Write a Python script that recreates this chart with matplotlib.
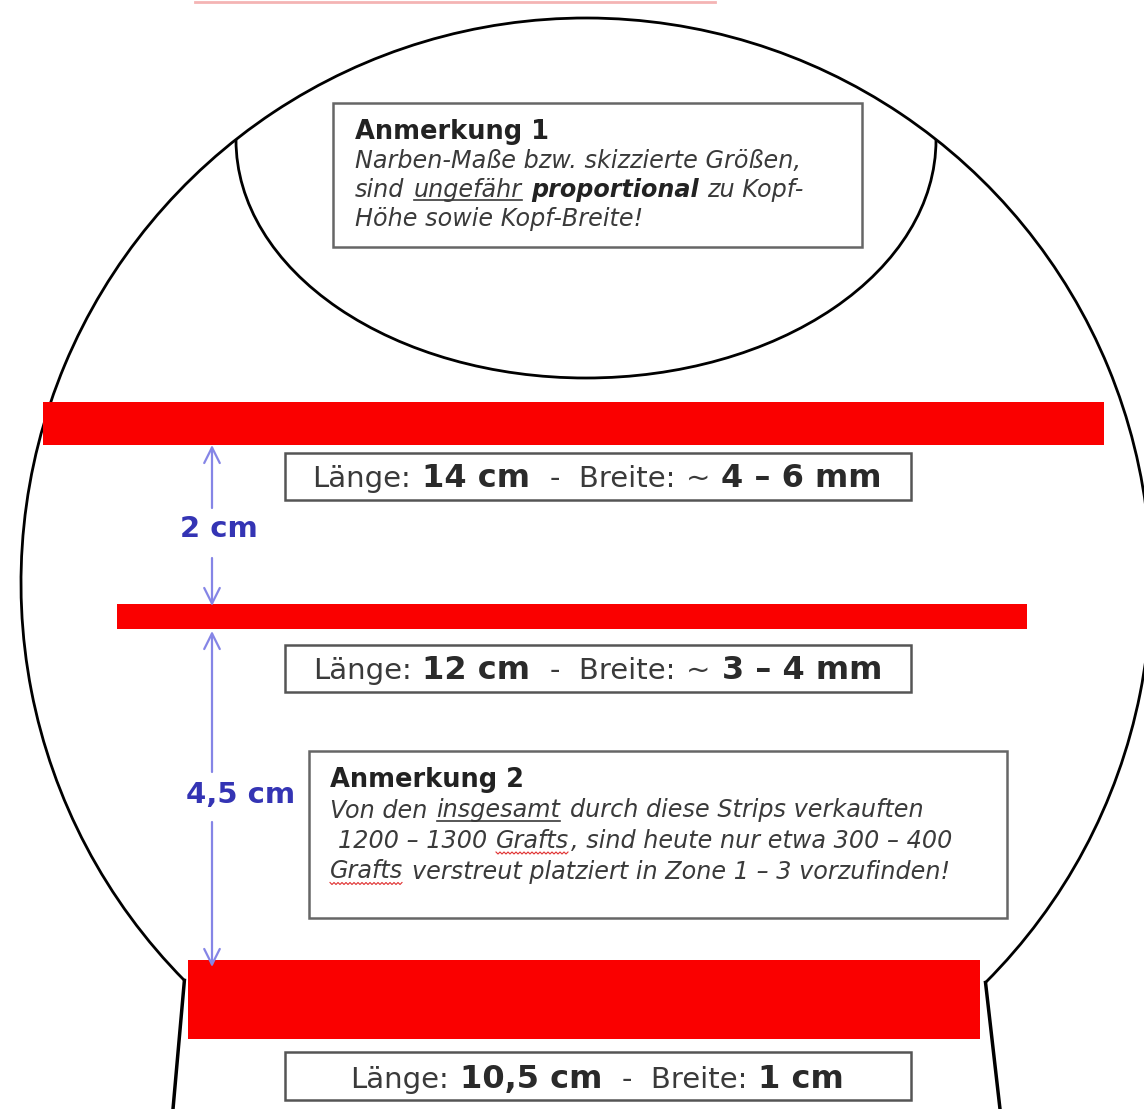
import matplotlib
matplotlib.use("Agg")
import matplotlib.pyplot as plt
import matplotlib.patches as patches
import numpy as np

# ---- content of the sketch ----
strip_lengths = ["14 cm", "12 cm", "10,5 cm"]
strip_tilde = ["~", "~", ""]
strip_widths = ["4 – 6 mm", "3 – 4 mm", "1 cm"]
gap_labels = ["2 cm", "4,5 cm"]

note1_title = "Anmerkung 1"
note1_lines = [
    [("Narben-Maße bzw. skizzierte Größen,", "")],
    [("sind ", ""), ("ungefähr", "u"), (" ", ""), ("proportional", "b"), (" zu Kopf-", "")],
    [("Höhe sowie Kopf-Breite!", "")],
]
note2_title = "Anmerkung 2"
note2_lines = [
    [("Von den ", ""), ("insgesamt", "u"), (" durch diese Strips verkauften", "")],
    [(" 1200 – 1300 ", ""), ("Grafts", "w"), (", sind heute nur etwa 300 – 400", "")],
    [("Grafts", "w"), (" verstreut platziert in Zone 1 – 3 vorzufinden!", "")],
]

# ---- geometry (pixel space, y down) ----
W, H = 1144, 1109
head_c, head_r = (586, 583), 565
arc_from, arc_to = 135.3, 405.0
crown_c, crown_w, crown_h = (586, 140), 700, 476
neck_bottom = [(173, 1109), (1000, 1109)]
strip_y = [(402, 445), (604, 629), (960, 1039)]
strip_x = [(43, 1104), (117, 1027), (188, 980)]
label_boxes = [(285, 453, 911, 500), (285, 645, 911, 692), (285, 1052, 911, 1100)]
label_base = [487, 679, 1088]
note1_box, note2_box = (333, 103, 862, 247), (309, 751, 1007, 918)
arrow_x = 212

RED = "#fa0000"
BLUE_LINE = "#8585e6"
BLUE_TEXT = "#3434b4"
TXT = "#3a3a3a"
FAM = "DejaVu Sans"

fig = plt.figure(figsize=(W / 100, H / 100), dpi=100)
ax = fig.add_axes([0, 0, 1, 1])
ax.set_xlim(0, W)
ax.set_ylim(H, 0)
ax.axis("off")
rend = fig.canvas.get_renderer()

_space = {}


def space_width(props):
    key = tuple(sorted(props.items()))
    if key not in _space:
        a = ax.text(0, 0, "x x", **props)
        b = ax.text(0, 0, "xx", **props)
        _space[key] = a.get_window_extent(rend).width - b.get_window_extent(rend).width
        a.remove()
        b.remove()
    return _space[key]


def draw_runs(x, y, runs, center=False):
    # runs: (text, props, deco) drawn one after another on a baseline
    items = []
    cx = x
    for text, props, deco in runs:
        sw = space_width(props)
        core = text.strip(" ")
        if not core:
            cx += len(text) * sw
            continue
        lead = len(text) - len(text.lstrip(" "))
        trail = len(text) - len(text.rstrip(" "))
        cx += lead * sw
        t = ax.text(cx, y, core, ha="left", va="baseline", zorder=6, **props)
        w = t.get_window_extent(rend).width
        items.append(t)
        if deco == "u":
            ln, = ax.plot([cx, cx + w], [y + 3, y + 3], color=props["color"], lw=1.2, zorder=6)
            items.append(ln)
        elif deco == "w":
            xs = np.arange(cx, cx + w, 2.0)
            ys = y + 5 + np.where(np.arange(len(xs)) % 2 == 0, -1.0, 1.0)
            ln, = ax.plot(xs, ys, color="#e03030", lw=0.8, zorder=6)
            items.append(ln)
        cx += w + 1.5 + trail * sw
    if center:
        shift = -(cx - x) / 2
        for a in items:
            if isinstance(a, plt.Text):
                px, py = a.get_position()
                a.set_position((px + shift, py))
            else:
                a.set_xdata(np.asarray(a.get_xdata()) + shift)
    return items


# head outline
ax.add_patch(patches.Arc(head_c, 2 * head_r, 2 * head_r, theta1=arc_from, theta2=arc_to,
                         color="black", lw=2, zorder=2))
clip = patches.Circle(head_c, head_r, transform=ax.transData)
crown = patches.Ellipse(crown_c, crown_w, crown_h, fill=False, color="black", lw=2, zorder=2)
ax.add_patch(crown)
crown.set_clip_path(clip)

# neck
for ang, (bx, by) in zip([arc_from, arc_to], neck_bottom):
    sx = head_c[0] + head_r * np.cos(np.radians(ang))
    sy = head_c[1] + head_r * np.sin(np.radians(ang))
    ax.plot([sx, bx], [sy, by], color="black", lw=2.5, zorder=2)

# faint cut-off heading at the top edge
ax.plot([195, 715], [1.5, 1.5], color="#f4b4b4", lw=2, zorder=1)

# strips
for (y0, y1), (x0, x1) in zip(strip_y, strip_x):
    ax.add_patch(patches.Rectangle((x0, y0), x1 - x0, y1 - y0, color=RED, lw=0, zorder=3))

# label boxes
normal = dict(family=FAM, fontsize=21, color=TXT)
bold = dict(family=FAM, fontsize=23, color="#2a2a2a", fontweight="bold")
for (x0, y0, x1, y1), base, ln, tl, wd in zip(label_boxes, label_base, strip_lengths,
                                               strip_tilde, strip_widths):
    ax.add_patch(patches.Rectangle((x0, y0), x1 - x0, y1 - y0, facecolor="white",
                                   edgecolor="#555555", lw=1.8, zorder=5))
    runs = [("Länge: ", normal, ""), (ln, bold, ""), ("  -  Breite: ", normal, "")]
    if tl:
        runs.append((tl + " ", normal, ""))
    runs.append((wd, bold, ""))
    draw_runs((x0 + x1) / 2, base, runs, center=True)


# notes
def note(box, title, lines, tx, ty, dy, title_size, body_size):
    x0, y0, x1, y1 = box
    ax.add_patch(patches.Rectangle((x0, y0), x1 - x0, y1 - y0, facecolor="white",
                                   edgecolor="#666666", lw=1.8, zorder=5))
    ax.text(tx, ty, title, family=FAM, fontsize=title_size, fontweight="bold",
            color="#222222", ha="left", va="baseline", zorder=6)
    body = dict(family=FAM, fontsize=body_size, style="italic", color=TXT)
    bodyb = dict(family=FAM, fontsize=body_size, style="italic", fontweight="bold", color="#222222")
    for i, line in enumerate(lines):
        runs = [(t, bodyb if d == "b" else body, d) for t, d in line]
        draw_runs(tx, ty + dy * (i + 1), runs)


note(note1_box, note1_title, note1_lines, 355, 139, 29, 18.5, 17.2)
note(note2_box, note2_title, note2_lines, 330, 787, 30.5, 18.5, 17.2)

# distance arrows
arrows = [((arrow_x, 445), (arrow_x, 508)), ((arrow_x, 606), (arrow_x, 558)),
          ((arrow_x, 631), (arrow_x, 772)), ((arrow_x, 967), (arrow_x, 822))]
for tip, tail in arrows:
    ax.annotate("", xy=tip, xytext=tail,
                arrowprops=dict(arrowstyle="->", color=BLUE_LINE, lw=1.6, mutation_scale=28,
                                shrinkA=0, shrinkB=0), zorder=7)
ax.text(arrow_x + 7, 529, gap_labels[0], family=FAM, fontsize=21, fontweight="bold",
        color=BLUE_TEXT, ha="center", va="center", zorder=7)
ax.text(arrow_x + 29, 795, gap_labels[1], family=FAM, fontsize=21, fontweight="bold",
        color=BLUE_TEXT, ha="center", va="center", zorder=7)

fig.savefig("out.png", dpi=100, facecolor="white")
